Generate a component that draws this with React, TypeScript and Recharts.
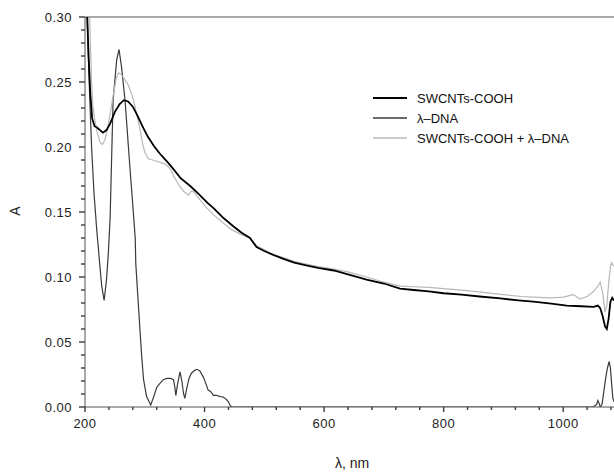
import React from "react";
import {
  LineChart,
  Line,
  XAxis,
  YAxis,
  ReferenceLine,
  Legend,
} from "recharts";

// SWCNTs-COOH (black)
const swX = [200, 203, 206, 209, 212, 216, 220, 225, 230, 236, 242, 250, 258, 265, 272, 280, 288, 296, 305, 315, 325, 337, 348, 360, 376, 390, 405, 415, 430, 448, 462, 476, 487, 500, 515, 532, 550, 570, 590, 616, 640, 671, 700, 727, 750, 775, 800, 830, 860, 895, 925, 950, 980, 1006, 1030, 1051, 1058, 1062, 1066, 1070, 1073, 1076, 1079, 1082, 1085];
const swY = [0.34, 0.31, 0.27, 0.24, 0.222, 0.216, 0.215, 0.213, 0.211, 0.213, 0.218, 0.227, 0.233, 0.236, 0.235, 0.231, 0.224, 0.216, 0.208, 0.201, 0.195, 0.189, 0.183, 0.176, 0.17, 0.164, 0.157, 0.153, 0.146, 0.139, 0.134, 0.13, 0.123, 0.12, 0.117, 0.114, 0.111, 0.109, 0.107, 0.105, 0.102, 0.098, 0.095, 0.091, 0.09, 0.089, 0.0875, 0.0865, 0.085, 0.0835, 0.082, 0.081, 0.0795, 0.078, 0.0775, 0.077, 0.078, 0.076, 0.07, 0.062, 0.06, 0.068, 0.081, 0.084, 0.082];

// lambda-DNA (dark grey)
const dnaX = [200, 203, 207, 211, 215, 220, 222, 225, 228, 232, 236, 239, 242, 247, 253, 257, 261, 267, 275, 280, 284, 285, 288, 292, 295, 298, 303, 310, 315, 320, 325, 331, 337, 343, 348, 350, 352, 355, 359, 362, 365, 367, 370, 374, 378, 383, 387, 392, 398, 403, 406, 410, 415, 420, 426, 431, 436, 440, 443, 446, 600, 800, 1000, 1050, 1056, 1058, 1060, 1062, 1065, 1068, 1071, 1074, 1077, 1079, 1081, 1083, 1085];
const dnaY = [0.36, 0.31, 0.25, 0.2, 0.165, 0.134, 0.124, 0.108, 0.093, 0.082, 0.098, 0.118, 0.145, 0.236, 0.267, 0.275, 0.262, 0.236, 0.185, 0.155, 0.13, 0.11, 0.088, 0.059, 0.038, 0.021, 0.008, 0.0015, 0.008, 0.015, 0.018, 0.021, 0.022, 0.022, 0.021, 0.016, 0.009, 0.018, 0.027, 0.02, 0.01, 0.0067, 0.014, 0.022, 0.026, 0.028, 0.029, 0.028, 0.023, 0.017, 0.013, 0.012, 0.009, 0.009, 0.008, 0.0077, 0.006, 0.004, 0.001, 0, 0, 0, 0, 0, 0.002, 0.005, 0.003, 0, 0.002, 0.012, 0.022, 0.03, 0.035, 0.03, 0.018, 0.007, 0.004];

// SWCNTs-COOH + lambda-DNA (light grey)
const mixX = [200, 204, 207, 209, 211, 213, 216, 220, 225, 229, 233, 238, 243, 248, 252, 256, 260, 265, 272, 280, 286, 292, 296, 300, 306, 313, 320, 327, 333, 339, 344, 348, 353, 358, 365, 373, 378, 381, 386, 393, 404, 415, 430, 443, 460, 476, 487, 500, 515, 532, 550, 570, 590, 616, 640, 671, 700, 727, 750, 775, 800, 839, 870, 900, 930, 950, 980, 1000, 1017, 1028, 1040, 1051, 1058, 1062, 1066, 1070, 1073, 1076, 1079, 1081, 1085];
const mixY = [0.36, 0.34, 0.31, 0.28, 0.25, 0.232, 0.222, 0.212, 0.204, 0.202, 0.205, 0.215, 0.228, 0.242, 0.252, 0.257, 0.256, 0.253, 0.248, 0.238, 0.226, 0.214, 0.203, 0.196, 0.191, 0.19, 0.189, 0.188, 0.187, 0.185, 0.182, 0.178, 0.174, 0.17, 0.166, 0.163, 0.166, 0.166, 0.163, 0.159, 0.153, 0.148, 0.142, 0.137, 0.133, 0.13, 0.124, 0.121, 0.117, 0.115, 0.112, 0.11, 0.108, 0.106, 0.104, 0.1, 0.096, 0.093, 0.0925, 0.092, 0.091, 0.0895, 0.088, 0.0865, 0.085, 0.0845, 0.084, 0.0845, 0.0865, 0.083, 0.085, 0.089, 0.093, 0.096, 0.088, 0.073, 0.078, 0.095, 0.108, 0.111, 0.108];

const xTicks = [200, 240, 280, 320, 360, 400, 440, 480, 520, 560, 600, 640, 680, 720, 760, 800, 840, 880, 920, 960, 1000, 1040, 1080];
const yTicks = [0, 0.01, 0.02, 0.03, 0.04, 0.05, 0.06, 0.07, 0.08, 0.09, 0.1, 0.11, 0.12, 0.13, 0.14, 0.15, 0.16, 0.17, 0.18, 0.19, 0.2, 0.21, 0.22, 0.23, 0.24, 0.25, 0.26, 0.27, 0.28, 0.29, 0.3];

const seriesNames = ["SWCNTs-COOH", "λ–DNA", "SWCNTs-COOH + λ–DNA"];
const seriesColors = ["#000", "#3a3a3a", "#b8b8b8"];

const zip = (xs: number[], ys: number[]) => xs.map((x, i) => ({ x, y: ys[i] }));

const font = "'Liberation Sans', Arial, sans-serif";
const axisColor = "#555";
const tickColor = "#3a3a3a";

const XTick = (props: any) => {
  const { x, y, payload } = props;
  const major = payload.value % 200 === 0;
  return (
    <g>
      <line x1={x} x2={x} y1={y} y2={y + (major ? 5 : 3)} stroke={tickColor} strokeWidth={1.4} />
      {major && (
        <text x={x} y={y + 21} textAnchor="middle" fontSize={13} fill="#222" fontFamily={font} letterSpacing={0.5}>
          {payload.value}
        </text>
      )}
    </g>
  );
};

const YTick = (props: any) => {
  const { x, y, payload } = props;
  const major = Math.round(payload.value * 100) % 5 === 0;
  return (
    <g>
      <line x1={x - (major ? 6 : 4)} x2={x} y1={y} y2={y} stroke={tickColor} strokeWidth={1.4} />
      {major && (
        <text x={x - 13} y={y + 5} textAnchor="end" fontSize={13} fill="#222" fontFamily={font} letterSpacing={0.5}>
          {payload.value.toFixed(2)}
        </text>
      )}
    </g>
  );
};

const LegendBox = () => (
  <div style={{ fontFamily: font, fontSize: 13, color: "#111" }}>
    {seriesNames.map((name, i) => (
      <div key={name} style={{ display: "flex", alignItems: "center", height: 20 }}>
        <svg width={34} height={4} style={{ marginRight: 10 }}>
          <line x1={0} x2={34} y1={2} y2={2} stroke={seriesColors[i]} strokeWidth={i === 0 ? 2 : 1.4} />
        </svg>
        <span>{name}</span>
      </div>
    ))}
  </div>
);

export default function App() {
  return (
    <div style={{ position: "absolute", left: 0, top: 0, width: 614, height: 473, background: "#fff" }}>
      <LineChart width={614} height={473} margin={{ top: 17, right: 0, bottom: 36, left: 0 }}>
        <XAxis
          type="number"
          dataKey="x"
          domain={[200, 1085]}
          allowDataOverflow
          ticks={xTicks}
          tick={<XTick />}
          tickLine={false}
          tickSize={0}
          tickMargin={0}
          height={30}
          stroke={axisColor}
          interval={0}
        />
        <YAxis
          type="number"
          dataKey="y"
          domain={[0, 0.3]}
          allowDataOverflow
          ticks={yTicks}
          tick={<YTick />}
          tickLine={false}
          tickSize={0}
          tickMargin={0}
          width={85}
          stroke={axisColor}
          interval={0}
        />
        <ReferenceLine y={0.3} stroke={axisColor} />
        <Line data={zip(dnaX, dnaY)} dataKey="y" name={seriesNames[1]} stroke={seriesColors[1]} strokeWidth={1.2} dot={false} type="linear" isAnimationActive={false} />
        <Line data={zip(mixX, mixY)} dataKey="y" name={seriesNames[2]} stroke={seriesColors[2]} strokeWidth={1.2} dot={false} type="linear" isAnimationActive={false} />
        <Line data={zip(swX, swY)} dataKey="y" name={seriesNames[0]} stroke={seriesColors[0]} strokeWidth={1.8} dot={false} type="linear" isAnimationActive={false} />
        <Legend
          layout="vertical"
          align="center"
          verticalAlign="middle"
          wrapperStyle={{ top: 88, left: 373, width: 240 }}
          content={<LegendBox />}
        />
        <text x={15} y={211} transform="rotate(-90 15 211)" textAnchor="middle" dominantBaseline="central" fontSize={14} fontFamily={font} fill="#222">
          A
        </text>
        <text x={352} y={463} textAnchor="middle" dominantBaseline="central" fontSize={14} fontFamily={font} fill="#222">
          λ, nm
        </text>
      </LineChart>
    </div>
  );
}
